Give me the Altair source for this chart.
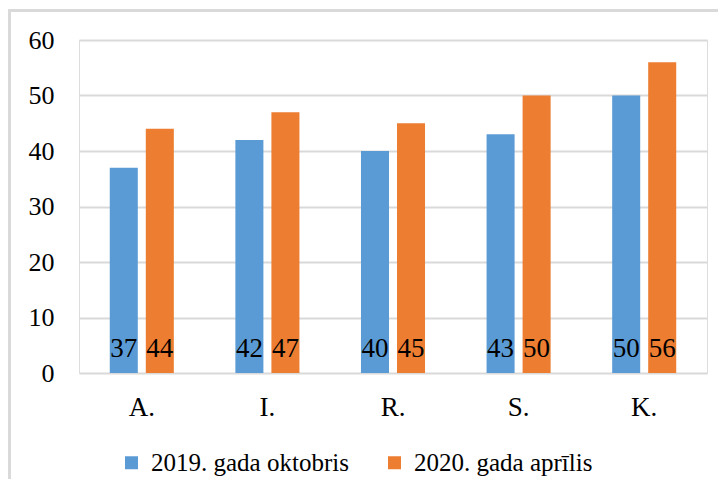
import altair as alt
import pandas as pd

categories = ["A.", "I.", "R.", "S.", "K."]
series_names = ["2019. gada oktobris", "2020. gada aprīlis"]
values_2019 = [37, 42, 40, 43, 50]
values_2020 = [44, 47, 45, 50, 56]
colors = ["#5b9bd5", "#ed7d31"]

rows = []
for c, v in zip(categories, values_2019):
    rows.append({"cat": c, "series": series_names[0], "value": v})
for c, v in zip(categories, values_2020):
    rows.append({"cat": c, "series": series_names[1], "value": v})
df = pd.DataFrame(rows)

FONT = "Liberation Serif"

x_enc = alt.X("cat:N", sort=categories,
              scale=alt.Scale(paddingInner=0.49, paddingOuter=0.245),
              axis=alt.Axis(title=None, labelAngle=0, ticks=False, tickSize=0, domain=False,
                            labelFontSize=27, labelFont=FONT, labelColor="#000000",
                            labelPadding=42, labelBaseline="alphabetic"))
xoff = alt.XOffset("series:N", sort=series_names,
                   scale=alt.Scale(paddingInner=0.222, paddingOuter=0))

y_scale = alt.Scale(domain=[0, 60])

bars = alt.Chart(df).mark_bar().encode(
    x=x_enc,
    xOffset=xoff,
    y=alt.Y("value:Q", scale=y_scale,
            axis=alt.Axis(title=None, values=[0, 10, 20, 30, 40, 50, 60], ticks=False, tickSize=0,
                          domain=False, grid=True, gridColor="#d9d9d9", gridWidth=2,
                          labelFontSize=26, labelFont=FONT, labelColor="#000000",
                          labelPadding=25)),
    color=alt.Color("series:N", sort=series_names,
                    scale=alt.Scale(domain=series_names, range=colors),
                    legend=alt.Legend(title=None, orient="none", direction="horizontal",
                                      legendX=40, legendY=410, labelLimit=0,
                                      symbolType="square", symbolSize=169, symbolStrokeWidth=0,
                                      labelFontSize=25, labelFont=FONT, labelColor="#000000",
                                      labelOffset=7, columnPadding=33)),
)

labels = alt.Chart(df).mark_text(
    fontSize=27, font=FONT, color="#000000", baseline="alphabetic", align="center", dy=-16
).encode(
    x=alt.X("cat:N", sort=categories),
    xOffset=xoff,
    y=alt.datum(0),
    text=alt.Text("value:Q"),
)

border_top = alt.Chart(df).mark_rule(stroke="#d9d9d9", strokeWidth=2).encode(
    x=alt.value(-70.5), x2=alt.value(660), y=alt.value(-29.5)
)
border_left = alt.Chart(df).mark_rule(stroke="#d9d9d9", strokeWidth=2).encode(
    x=alt.value(-69.5), y=alt.value(-30.5), y2=alt.value(480)
)

chart = alt.layer(border_top, border_left, bars, labels).properties(
    width=628, height=333,
    padding={"left": 71, "top": 32, "right": 11, "bottom": 106},
    autosize=alt.AutoSizeParams(type="none"),
).configure_view(stroke=None).configure(font=FONT)

chart.save("out.html", embed_options={"renderer": "svg", "actions": False})
